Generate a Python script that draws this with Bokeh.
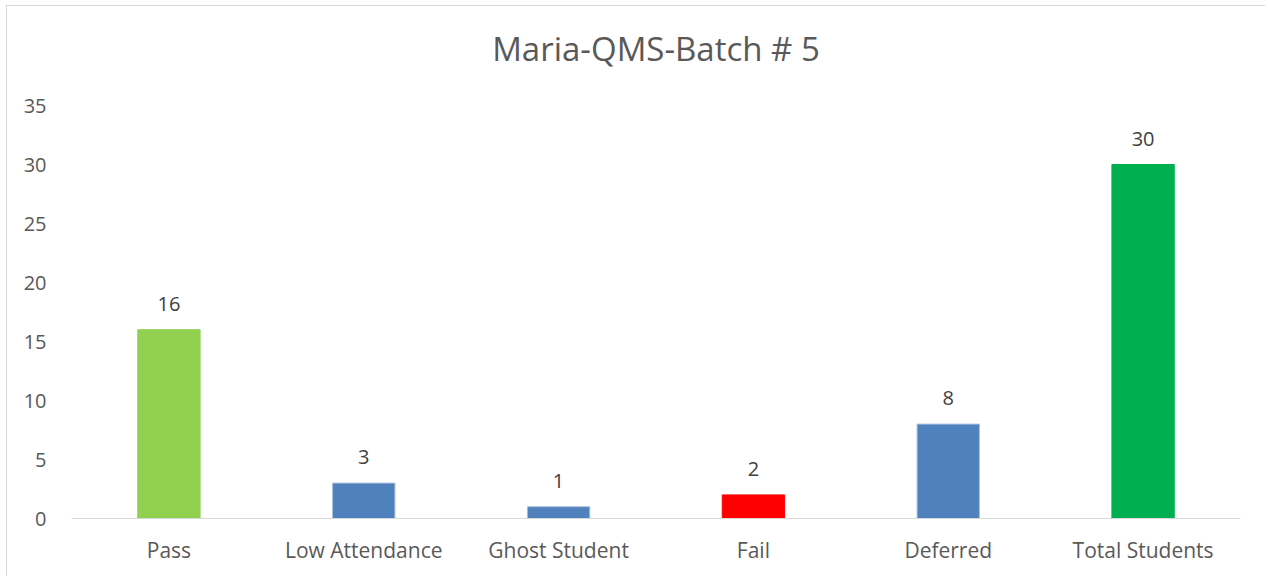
from bokeh.plotting import figure
from bokeh.models import Range1d, ColumnDataSource, Label, FixedTicker
from bokeh.core.properties import value
from bokeh.embed import file_html
from bokeh.resources import INLINE

categories = ["Pass", "Low Attendance", "Ghost Student", "Fail", "Deferred", "Total Students"]
counts = [16, 3, 1, 2, 8, 30]
colors = ["#92D050", "#4F81BD", "#4F81BD", "#FF0000", "#4F81BD", "#00B050"]
outlines = ["#92D050", "#A7C0DE", "#A7C0DE", "#FF0000", "#A7C0DE", "#00B050"]
labels = [str(c) for c in counts]
y_ticks = [0, 5, 10, 15, 20, 25, 30, 35]
title_text = "Maria-QMS-Batch # 5"
y_max = 35

FONT = "Open Sans"

# layout: axis area from 0 to y_max spans 413 px; the frame extends above it
# (invisible) so that the title can sit inside the frame.
AXIS_PX = 413
FRAME_PX = 512
y_end = y_max * FRAME_PX / AXIS_PX

src = ColumnDataSource(dict(cat=categories, val=counts, color=colors, outline=outlines, label=labels))

p = figure(x_range=categories, y_range=Range1d(0, y_end), frame_width=1169, frame_height=FRAME_PX,
           output_backend="svg", toolbar_location=None,
           min_border_left=64, min_border_right=25, min_border_bottom=58, min_border_top=0)
p.title = None

p.vbar(x="cat", top="val", width=0.32, source=src, fill_color="color", line_color="outline", line_width=1)
p.text(x="cat", y="val", text="label", source=src, text_align="center", text_baseline="middle",
       y_offset=-26, text_font=value(FONT), text_font_size="20px", text_color="#404040")

title = Label(x=len(categories) / 2, y=y_max, y_offset=57, text=title_text,
              text_font=FONT, text_font_size="33px", text_color="#595959",
              text_align="center", text_baseline="middle")
p.add_layout(title)

p.xgrid.visible = False
p.ygrid.visible = False
p.outline_line_color = None

p.yaxis.ticker = FixedTicker(ticks=y_ticks)
p.yaxis.axis_line_color = None
p.yaxis.major_tick_line_color = None
p.yaxis.minor_tick_line_color = None
p.yaxis.major_label_text_font = FONT
p.yaxis.major_label_text_font_size = "20px"
p.yaxis.major_label_text_color = "#595959"
p.yaxis.major_label_standoff = 19

p.xaxis.axis_line_color = "#D9D9D9"
p.xaxis.axis_line_width = 1
p.xaxis.major_tick_line_color = None
p.xaxis.minor_tick_line_color = None
p.xaxis.major_label_text_font = FONT
p.xaxis.major_label_text_font_size = "21px"
p.xaxis.major_label_text_color = "#595959"
p.xaxis.major_label_standoff = 11

p.styles = {"margin-left": "6px", "margin-top": "5px",
            "border-left": "1px solid #D9D9D9", "border-top": "1px solid #D9D9D9"}

open("out.html", "w").write(file_html(p, INLINE))
